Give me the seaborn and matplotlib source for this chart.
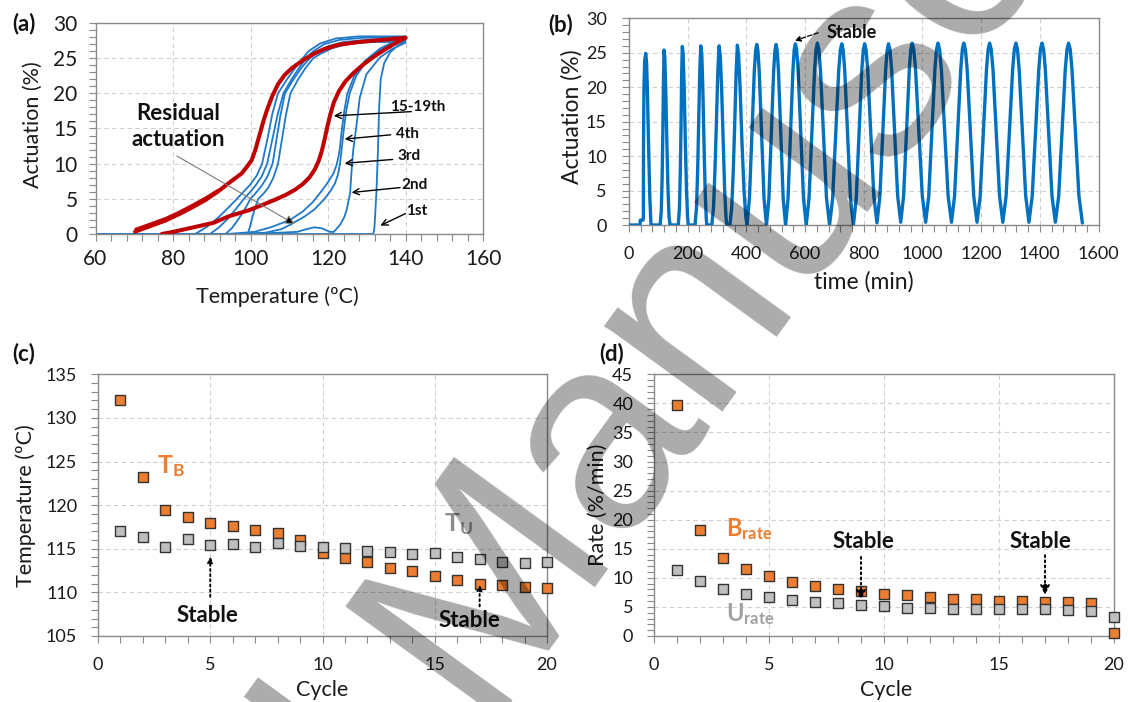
import matplotlib
matplotlib.use("Agg")
import matplotlib.pyplot as plt
from matplotlib.ticker import MultipleLocator
import pandas as pd
import seaborn as sns

sns.set_theme(style="white")
plt.rcParams["font.family"] = ["Lato", "DejaVu Sans"]
plt.rcParams["mathtext.fontset"] = "custom"
plt.rcParams["mathtext.rm"] = "Lato"
plt.rcParams["mathtext.bf"] = "Lato:bold"
plt.rcParams["mathtext.it"] = "Lato:italic"

# ---------------- (a) actuation vs temperature, one list per branch ----------------
heat_1st_T = [60, 131.7, 132.0, 132.5, 132.9, 133.2, 133.6, 134.5, 136, 138, 140]
heat_1st_A = [0, 0, 1.0, 6.0, 12.0, 18.0, 22.0, 24.3, 25.8, 26.8, 27.5]
heat_2nd_T = [100, 112, 114.5, 116.5, 118.5, 120.5, 121.5, 123.1, 124.2, 124.8, 125.7,
              126.1, 126.5, 127.3, 128.2, 129.9, 133.4, 136.5, 140]
heat_2nd_A = [0, 0.3, 0.7, 0.95, 0.8, 0.3, 0.3, 1.3, 2.4, 3.4, 5.8,
              9.1, 11.9, 15.2, 19.4, 22.7, 25.1, 26.3, 27.2]
heat_3rd_T = [97, 104, 108, 110.2, 114, 116.5, 118.8, 120.5, 121.8, 122.6, 123.1,
              123.5, 124.0, 124.7, 125.6, 127.3, 130, 134, 140]
heat_3rd_A = [0, 0.2, 0.7, 1.3, 2.5, 3.5, 4.8, 6.0, 7.2, 8.5, 10.0,
              11.9, 14.5, 17.5, 20.0, 22.5, 24.6, 26.3, 27.9]
heat_4th_T = [94, 101, 105.5, 110.2, 113.5, 116, 117.9, 119.8, 121.4, 122.2, 122.7,
              123.0, 123.5, 124.2, 125.0, 126.8, 129.5, 133.5, 140]
heat_4th_A = [0, 0.3, 1.0, 2.0, 3.2, 4.5, 5.8, 7.2, 8.6, 9.8, 11.0,
              11.9, 14.5, 17.5, 20.0, 22.5, 24.6, 26.4, 28.1]

cool_a_T = [140, 128, 122, 118, 115, 113.5, 111.5, 109.3, 107.1, 105.6, 104.4, 103.0,
            101.6, 99.9, 98.2, 96.5, 94.2, 91.6, 88.7, 85.7, 60]
cool_a_A = [28.1, 28.1, 27.8, 27.1, 26.0, 25.0, 23.6, 21.9, 20.0, 17.0, 13.6, 10.0,
            8.3, 7.0, 6.0, 5.0, 3.7, 2.3, 1.0, 0.0, 0.0]
cool_b_T = [140, 129, 123, 119, 116, 114.4, 112.5, 110.5, 108.5, 107, 105.7, 104.3,
            102.9, 101.3, 99.8, 98.3, 96.3, 94.2, 91.8, 89.5, 60]
cool_b_A = [27.9, 27.9, 27.6, 27.0, 25.9, 25.0, 23.6, 21.9, 20.0, 17.0, 13.6, 10.0,
            8.2, 6.9, 5.9, 5.0, 3.6, 2.2, 0.9, 0.0, 0.0]
cool_c_T = [140, 130, 124, 120, 117, 115.3, 113.1, 111, 108.9, 107.7, 106.7, 105.7,
            104.3, 102.8, 101.3, 100.0, 98.6, 97.0, 95.3, 93.6, 60]
cool_c_A = [27.6, 27.6, 27.3, 26.7, 25.8, 25.0, 23.6, 21.9, 20.0, 16.8, 13.4, 10.0,
            8.1, 6.8, 5.8, 5.0, 3.6, 2.2, 0.9, 0.0, 0.0]
cool_d_T = [140, 131, 125, 121, 118, 116.2, 114.2, 112.2, 110.3, 109.1, 108.1, 107.1,
            105.9, 104.6, 103.3, 102.0, 101.1, 100.4, 99.8, 99.3, 60]
cool_d_A = [27.3, 27.3, 27.0, 26.4, 25.6, 25.0, 23.6, 21.9, 20.0, 16.8, 13.4, 10.0,
            8.0, 6.6, 5.7, 5.0, 3.6, 2.2, 0.9, 0.0, 0.0]

red_heat_T = [77.1, 80, 85.7, 90.5, 94.3, 99.7, 102.9, 106, 108.9, 111.5, 113.5, 115.3,
              116.6, 117.6, 118.4, 119.1, 119.8, 120.6, 121.5, 122.8, 124.5, 126.6,
              129.1, 131.8, 134.6, 137.3, 140]
red_heat_A = [0, 0.3, 1.0, 1.6, 2.5, 3.4, 4.1, 4.8, 5.5, 6.3, 7.1, 8.1,
              9.2, 10.4, 11.8, 13.4, 15.2, 17.0, 18.7, 20.3, 21.7, 22.9,
              24.1, 25.2, 26.2, 27.1, 27.9]
red_cool_T = [140, 134, 128, 122.7, 119, 116.3, 113.5, 110.7, 108.8, 107.1, 105.6, 104.3,
              103.3, 102.5, 101.2, 100.3, 99, 97.7, 96, 94.3, 91.5, 88.3, 85, 81.5,
              78, 74, 70.2]
red_cool_A = [27.9, 27.6, 27.3, 26.9, 26.3, 25.6, 24.7, 23.6, 22.6, 21.3, 19.6, 17.7,
              16.0, 14.4, 11.9, 10.5, 9.5, 8.6, 7.9, 7.2, 6.0, 4.8, 3.8, 2.8,
              1.9, 1.1, 0.33]
red_low_T = [70.2, 74, 78, 81.5, 85, 88.3, 91.5]
red_low_A1 = [0.55, 1.3, 2.1, 3.0, 4.0, 5.0, 6.15]
red_low_A2 = [0.75, 1.5, 2.3, 3.2, 4.2, 5.2, 6.3]

# ---------------- (b) actuation vs time, one list per thermal cycle ----------------
cycle_t = [
    [0, 37.5, 38.5, 47.5, 48.9, 49.5, 51, 53.5, 56.9, 60, 63, 67, 71, 75],
    [106, 110, 113, 115.5, 117.5, 119.3, 122, 125, 129, 133, 136.5, 140],
    [168, 172, 175, 177.5, 179.5, 181.7, 184.5, 188, 192, 196, 199.5, 202],
    [225, 230, 234, 237.5, 241, 244.5, 248, 251.5, 255.5, 259.5, 263, 265],
    [282, 288, 293, 298, 302.5, 306.9, 311, 315.5, 321, 326, 330.5, 333],
    [344, 350, 355.5, 360.5, 365, 369.3, 373.5, 378.5, 385, 392, 398, 402],
    [410.4, 418.7, 427.1, 431.4, 435.4, 439.4, 443.7, 452.0, 460.2, 468.5],
    [476.7, 484.9, 493.0, 497.3, 501.2, 505.1, 509.3, 517.4, 525.5, 533.6],
    [541.9, 550.3, 558.7, 563.0, 567, 571.4, 576.3, 585.5, 594.8, 604],
    [613.5, 623, 632.5, 637.4, 642, 647, 652.4, 662.8, 673.1, 683.5],
    [693.9, 704.4, 714.8, 720.2, 725.2, 729.9, 735.1, 745.0, 754.8, 764.7],
    [774.3, 783.9, 793.4, 798.4, 803, 808, 813.5, 824, 834.5, 845],
    [854.9, 864.8, 874.6, 879.8, 884.5, 889.5, 894.9, 905.3, 915.6, 926],
    [935.8, 945.5, 955.3, 960.3, 965, 970.5, 976.5, 988, 999.5, 1011],
    [1021.5, 1032, 1042.5, 1048, 1053, 1058.5, 1064.5, 1076, 1087.5, 1099],
    [1109.5, 1120, 1130.5, 1136, 1141, 1146.4, 1152.4, 1163.5, 1174.8, 1186],
    [1196.8, 1207.5, 1218.3, 1223.8, 1229, 1234.4, 1240.4, 1251.5, 1262.8, 1274],
    [1285.1, 1296.3, 1307.4, 1313.2, 1318.5, 1323.8, 1329.6, 1340.8, 1351.9, 1363],
    [1374.1, 1385.3, 1396.4, 1402.2, 1407.5, 1413, 1418.8, 1430.1, 1441.5, 1453],
    [1464.3, 1475.5, 1486.8, 1492.6, 1498, 1503.6, 1509.6, 1521.5, 1533.3, 1545],
]
cycle_a = [
    [0, 0, 0.7, 0.7, 1.0, 12, 20, 23.8, 24.9, 23.5, 19, 11, 4, 0],
    [0, 2, 7, 14, 21, 25.4, 24.3, 20, 12, 5, 1.2, 0],
    [0, 2.5, 8, 15, 22, 25.9, 24.8, 20, 12, 5, 1.2, 0],
    [0, 2.5, 8, 15, 22, 26.0, 24.8, 20, 12, 5, 1.2, 0],
    [0, 2.5, 8, 15, 22, 26.0, 24.6, 20, 12, 5, 1.2, 0],
    [0, 2.5, 8, 15, 22, 26.1, 24.6, 20, 12, 5, 1.2, 0],
    [3.8, 13.1, 22.4, 25.3, 26.2, 25.3, 22.4, 13.1, 3.8, 0],
    [3.8, 13.1, 22.4, 25.3, 26.2, 25.3, 22.4, 13.1, 3.8, 0],
    [3.8, 13.2, 22.5, 25.4, 26.3, 25.4, 22.5, 13.2, 3.8, 0],
    [3.9, 13.2, 22.5, 25.5, 26.4, 25.5, 22.5, 13.2, 3.9, 0],
    [3.8, 13.2, 22.5, 25.4, 26.3, 25.4, 22.5, 13.2, 3.8, 0],
    [3.8, 13.2, 22.5, 25.4, 26.3, 25.4, 22.5, 13.3, 4.1, 0.3],
    [4.1, 13.3, 22.5, 25.4, 26.3, 25.4, 22.6, 13.4, 4.2, 0.4],
    [4.2, 13.4, 22.6, 25.5, 26.4, 25.5, 22.6, 13.4, 4.2, 0.4],
    [4.2, 13.4, 22.6, 25.5, 26.4, 25.5, 22.6, 13.4, 4.2, 0.4],
    [4.2, 13.4, 22.6, 25.5, 26.4, 25.5, 22.6, 13.4, 4.2, 0.4],
    [4.2, 13.4, 22.6, 25.5, 26.4, 25.5, 22.6, 13.4, 4.2, 0.4],
    [4.2, 13.4, 22.6, 25.5, 26.4, 25.5, 22.6, 13.4, 4.2, 0.4],
    [4.2, 13.4, 22.6, 25.5, 26.4, 25.5, 22.6, 13.4, 4.2, 0.4],
    [4.2, 13.4, 22.6, 25.5, 26.4, 25.5, 22.6, 13.4, 4.2, 0.3],
]

# ---------------- (c) and (d) per-cycle values ----------------
cycles = list(range(1, 21))
T_B = [132.0, 123.2, 119.5, 118.6, 117.9, 117.65, 117.15, 116.8, 116.0, 114.5,
       113.9, 113.5, 112.8, 112.4, 111.9, 111.4, 111.0, 110.85, 110.6, 110.5]
T_U = [117.0, 116.4, 115.25, 116.1, 115.4, 115.55, 115.15, 115.7, 115.35, 115.25,
       115.05, 114.75, 114.6, 114.4, 114.5, 114.1, 113.8, 113.5, 113.4, 113.5]
B_rate = [39.7, 18.2, 13.4, 11.5, 10.3, 9.2, 8.6, 8.0, 7.8, 7.2,
          7.0, 6.65, 6.4, 6.4, 6.1, 6.0, 5.85, 5.8, 5.7, 0.5]
U_rate = [11.35, 9.4, 8.0, 7.2, 6.65, 6.2, 5.9, 5.7, 5.3, 5.2,
          4.9, 4.9, 4.7, 4.7, 4.6, 4.6, 4.6, 4.5, 4.35, 3.2]

ORANGE = "#ED7D31"
GREY_FILL = "#BFBFBF"
BLUE = "#1F78C8"
BLUE_B = "#0070C0"
RED = "#C00000"
SPINE = "#8a8a8a"

W, H = 1128, 702
fig = plt.figure(figsize=(W / 100, H / 100), dpi=100)


def box(l, r, t, b):
    return [l / W, 1 - b / H, (r - l) / W, (b - t) / H]


ax_a = fig.add_axes(box(95.5, 483, 23, 234))
ax_b = fig.add_axes(box(629, 1098.5, 18.3, 225))
ax_c = fig.add_axes(box(98, 547, 374.3, 636))
ax_d = fig.add_axes(box(654, 1114, 374.3, 636))


def style(ax, xlim, ylim, xmaj, xmin, ymaj, ymin, fs, xpad, ypad):
    ax.set_xlim(*xlim)
    ax.set_ylim(*ylim)
    ax.xaxis.set_major_locator(MultipleLocator(xmaj))
    ax.xaxis.set_minor_locator(MultipleLocator(xmin))
    ax.yaxis.set_major_locator(MultipleLocator(ymaj))
    ax.yaxis.set_minor_locator(MultipleLocator(ymin))
    ax.grid(True, which="major", linestyle=(0, (4, 3)), color="#cfcfcf", lw=0.8)
    ax.set_axisbelow(True)
    for s in ax.spines.values():
        s.set_color(SPINE)
        s.set_linewidth(1.0)
    ax.tick_params(which="both", direction="out", length=5, width=0.8, color=SPINE,
                   bottom=True, left=True, top=False, right=False)
    ax.tick_params(axis="x", which="major", labelsize=fs, labelcolor="#1a1a1a", pad=xpad)
    ax.tick_params(axis="y", which="major", labelsize=fs, labelcolor="#1a1a1a", pad=ypad)


def labels(ax, xl, yl, fs, xpos, ypos):
    ax.set_xlabel(xl, fontsize=fs, color="#1a1a1a")
    ax.set_ylabel(yl, fontsize=fs, color="#1a1a1a")
    ax.xaxis.label.set_va("center")
    ax.yaxis.label.set_va("center")
    ax.xaxis.set_label_coords(*xpos)
    ax.yaxis.set_label_coords(*ypos)


# ---- panel (a)
style(ax_a, (60, 160), (0, 30), 20, 4, 5, 1, 15, 6, 8)
blue_branches = [(heat_1st_T, heat_1st_A), (heat_2nd_T, heat_2nd_A),
                 (heat_3rd_T, heat_3rd_A), (heat_4th_T, heat_4th_A),
                 (cool_a_T, cool_a_A), (cool_b_T, cool_b_A),
                 (cool_c_T, cool_c_A), (cool_d_T, cool_d_A)]
for bt, ba in blue_branches:
    sns.lineplot(x=bt, y=ba, sort=False, estimator=None, color=BLUE, lw=1.3, ax=ax_a,
                 zorder=2)
for bt, ba, lw in [(red_low_T, red_low_A1, 1.1), (red_low_T, red_low_A2, 1.1),
                   (red_heat_T, red_heat_A, 2.9), (red_cool_T, red_cool_A, 2.9)]:
    sns.lineplot(x=bt, y=ba, sort=False, estimator=None, color=RED, lw=lw, ax=ax_a,
                 zorder=3)
labels(ax_a, "Temperature (ºC)", "Actuation (%)", 15.5, (0.47, -0.297), (-0.161, 0.519))

ax_a.text(81.4, 15.3, "Residual\nactuation", fontsize=16, fontweight="bold",
          ha="center", va="center", linespacing=1.3, color="#111111", zorder=5)
ax_a.annotate("", xy=(111.4, 1.4), xytext=(81, 11.1),
              arrowprops=dict(arrowstyle="-|>", facecolor="black", edgecolor="#7a7a7a",
                              lw=0.8, mutation_scale=14, shrinkA=0, shrinkB=0), zorder=5)
cycle_tags = [("15-19th", (143.2, 18.1), (141.5, 17.4), (121.5, 16.8)),
              ("4th", (140.6, 14.2), (136.2, 14.1), (124.3, 13.5)),
              ("3rd", (140.9, 11.1), (136.7, 10.6), (124.3, 10.05)),
              ("2nd", (142.2, 7.0), (138.6, 6.6), (126.1, 5.9)),
              ("1st", (143.0, 3.3), (140.0, 2.9), (133.5, 1.2))]
for tag, tpos, start, tip in cycle_tags:
    ax_a.text(*tpos, tag, fontsize=11, fontweight="bold", ha="center", va="center",
              color="#111111", zorder=5)
    ax_a.annotate("", xy=tip, xytext=start,
                  arrowprops=dict(arrowstyle="->", color="black", lw=1.0,
                                  mutation_scale=11, shrinkA=0, shrinkB=0), zorder=5)

# ---- panel (b)
df_b = pd.DataFrame({"time": [t for c in cycle_t for t in c],
                     "act": [a for c in cycle_a for a in c]})
style(ax_b, (0, 1600), (0, 30), 200, 40, 5, 1, 13, 10, 11)
sns.lineplot(data=df_b, x="time", y="act", sort=False, estimator=None, color=BLUE_B,
             lw=2.4, ax=ax_b, zorder=3)
labels(ax_b, "time (min)", "Actuation (%)", 16.5, (0.501, -0.276), (-0.121, 0.524))
ax_b.text(759, 27.9, "Stable", fontsize=13, fontweight="bold", ha="center", va="center",
          color="#111111", zorder=5)
ax_b.annotate("", xy=(565.3, 26.75), xytext=(644.4, 27.9),
              arrowprops=dict(arrowstyle="-|>", color="black", lw=0.9, linestyle="--",
                              mutation_scale=8, shrinkA=0, shrinkB=0), zorder=5)

# ---- panels (c) and (d)
style(ax_c, (0, 20), (105, 135), 5, 1, 5, 1, 13, 10, 10)
style(ax_d, (0, 20), (0, 45), 5, 1, 5, 1, 13, 10, 10)
for ax, yb, yu in [(ax_c, T_B, T_U), (ax_d, B_rate, U_rate)]:
    sns.scatterplot(x=cycles, y=yb, marker="s", s=58, color=ORANGE, edgecolor="#333333",
                    linewidth=1.0, ax=ax, zorder=3, clip_on=False)
    sns.scatterplot(x=cycles, y=yu, marker="s", s=58, color=GREY_FILL, edgecolor="#333333",
                    linewidth=1.0, ax=ax, zorder=4, clip_on=False)
labels(ax_c, "Cycle", "Temperature (ºC)", 15.5, (0.4987, -0.206), (-0.160, 0.4975))
labels(ax_d, "Cycle", "Rate (%/min)", 15.5, (0.504, -0.206), (-0.123, 0.50))

ax_c.text(2.64, 123.66, r"$\mathbf{T}_{\mathbf{B}}$", fontsize=18, color=ORANGE,
          ha="left", va="baseline", zorder=5)
ax_c.text(15.41, 117.04, r"$\mathbf{T}_{\mathbf{U}}$", fontsize=18, color="#8c8c8c",
          ha="left", va="baseline", zorder=5)
ax_d.text(3.13, 17.1, r"$\mathbf{B}_{\mathbf{rate}}$", fontsize=17, color=ORANGE,
          ha="left", va="baseline", zorder=5)
ax_d.text(3.13, 2.46, r"$\mathbf{U}_{\mathbf{rate}}$", fontsize=17, color="#a0a0a0",
          ha="left", va="baseline", zorder=5)

for x, ty, y0, y1 in [(4.86, 107.4, 109.5, 114.1), (16.53, 106.8, 108.4, 110.9)]:
    ax_c.text(x, ty, "Stable", fontsize=16, fontweight="bold", ha="center", va="center",
              color="#111111", zorder=5)
    ax_c.annotate("", xy=(round(x), y1), xytext=(round(x), y0),
                  arrowprops=dict(arrowstyle="-|>", color="black", lw=1.4, linestyle=":",
                                  mutation_scale=8, shrinkA=0, shrinkB=0), zorder=5)
for x, ty, y0, y1 in [(9.09, 16.2, 13.6, 6.2), (16.79, 16.2, 13.9, 7.05)]:
    ax_d.text(x, ty, "Stable", fontsize=16, fontweight="bold", ha="center", va="center",
              color="#111111", zorder=5)
    ax_d.annotate("", xy=(round(x), y1), xytext=(round(x), y0),
                  arrowprops=dict(arrowstyle="-|>", color="black", lw=1.4, linestyle=":",
                                  mutation_scale=14, shrinkA=0, shrinkB=0), zorder=5)

# panel letters
for tag, x, y in [("(a)", 24, 24), ("(b)", 561, 25), ("(c)", 24, 354), ("(d)", 612, 354)]:
    fig.text(x / W, 1 - y / H, tag, fontsize=16, fontweight="bold", ha="center",
             va="center", color="#111111")

# translucent diagonal manuscript stamp across the figure
stamp_x, stamp_y = 477 / W, 1 - 718 / H
fig.text(stamp_x, stamp_y, "Accepted ", fontsize=199, family="Liberation Sans",
         color="black", alpha=0.33, rotation=54, rotation_mode="anchor",
         ha="right", va="baseline", zorder=10)
fig.text(stamp_x, stamp_y, "Manuscript", fontsize=199, family="Liberation Sans",
         color="black", alpha=0.33, rotation=54, rotation_mode="anchor",
         ha="left", va="baseline", zorder=10)

fig.savefig("out.png", dpi=100)
